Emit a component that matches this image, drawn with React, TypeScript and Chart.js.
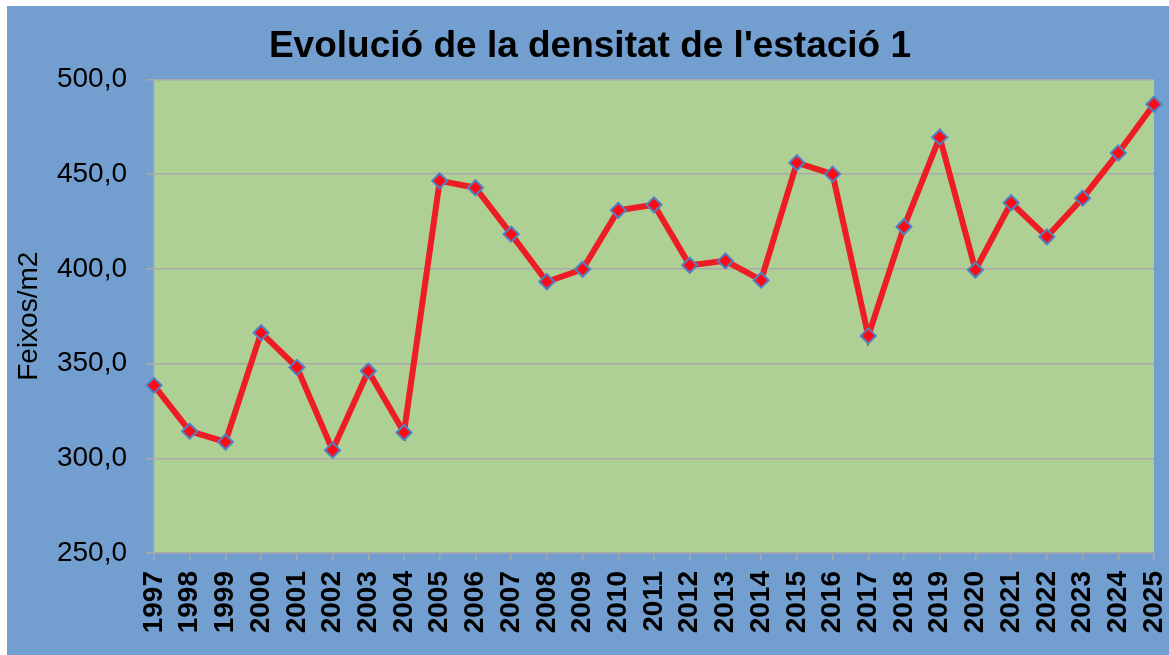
import React, { useEffect, useRef } from "react";
import { Chart, registerables } from "chart.js";

Chart.register(...registerables);

const years: string[] = [
  "1997", "1998", "1999", "2000", "2001", "2002", "2003", "2004", "2005", "2006",
  "2007", "2008", "2009", "2010", "2011", "2012", "2013", "2014", "2015", "2016",
  "2017", "2018", "2019", "2020", "2021", "2022", "2023", "2024", "2025",
];

const density: number[] = [
  338.5, 314.3, 308.6, 366.3, 348.0, 304.3, 346.1, 313.6, 446.5, 442.8,
  418.3, 393.2, 399.8, 430.9, 433.8, 401.9, 404.2, 394.0, 456.0, 450.0,
  364.6, 422.2, 469.5, 399.4, 434.9, 416.9, 437.3, 461.2, 486.9,
];

const yMin = 250;
const yMax = 500;
const yStep = 50;

const titleText = "Evolució de la densitat de l'estació 1";
const yTitle = "Feixos/m2";

const FONT = "'Liberation Sans', Arial, Helvetica, sans-serif";
const BLUE_BG = "#729fcf";
const PLOT_BG = "#afd095";
const GRID = "#a9a9a9";

const plotBgPlugin = {
  id: "plotBg",
  afterLayout(chart: any) {
    const tb = chart.titleBlock;
    if (tb) {
      tb.left = 4;
      tb.right = chart.width;
    }
  },
  beforeDraw(chart: any) {
    const { ctx, chartArea } = chart;
    if (!chartArea) return;
    ctx.save();
    ctx.fillStyle = PLOT_BG;
    ctx.fillRect(chartArea.left, chartArea.top, chartArea.right - chartArea.left, chartArea.bottom - chartArea.top);
    ctx.restore();
  },
};

export default function App() {
  const ref = useRef<HTMLCanvasElement | null>(null);

  useEffect(() => {
    if (!ref.current) return;
    const chart = new Chart(ref.current, {
      type: "line",
      data: {
        labels: years,
        datasets: [
          {
            data: density,
            borderColor: "#ee1c25",
            borderWidth: 6,
            pointStyle: "rectRot",
            pointRadius: 7.5,
            pointBackgroundColor: "#ff0a14",
            pointBorderColor: "#4f81c4",
            pointBorderWidth: 2,
            tension: 0,
            fill: false,
          },
        ],
      },
      plugins: [plotBgPlugin],
      options: {
        animation: false,
        responsive: false,
        maintainAspectRatio: false,
        layout: { padding: { left: 0, right: 15, top: 0, bottom: 0 } },
        plugins: {
          legend: { display: false },
          tooltip: { enabled: false },
          title: {
            display: true,
            text: titleText,
            color: "#000",
            font: { family: FONT, size: 37, weight: "bold", lineHeight: 1.2 },
            padding: { top: 19, bottom: 10 },
          },
        },
        scales: {
          x: {
            offset: false,
            grid: {
              drawOnChartArea: false,
              drawTicks: true,
              tickLength: 8,
              color: GRID,
              lineWidth: 1.5,
            },
            border: { display: true, color: GRID, width: 1.5 },
            ticks: {
              color: "#000",
              autoSkip: false,
              minRotation: 90,
              maxRotation: 90,
              padding: 10,
              font: { family: FONT, size: 28, weight: "bold", lineHeight: 1 },
            },
            afterFit(scale: any) {
              scale.height = 102;
              scale.paddingLeft = 0;
              scale.paddingRight = 0;
            },
          },
          y: {
            min: yMin,
            max: yMax,
            grid: {
              color: GRID,
              lineWidth: 1.5,
              tickLength: 8,
            },
            border: { display: true, color: GRID, width: 1.5 },
            ticks: {
              stepSize: yStep,
              color: "#000",
              padding: 19,
              font: { family: FONT, size: 28 },
              callback: (v: any) => Number(v).toFixed(1).replace(".", ","),
            },
            title: {
              display: true,
              text: yTitle,
              color: "#000",
              font: { family: FONT, size: 28, lineHeight: 1.2 },
              padding: { top: 5, bottom: 0 },
            },
            afterFit(scale: any) {
              scale.width = 147;
            },
          },
        },
      },
    } as any);
    return () => chart.destroy();
  }, []);

  return (
    <div style={{ position: "absolute", left: 0, top: 0, width: 1169, height: 655, background: "#fff" }}>
      <div style={{ position: "absolute", left: 7, top: 6, width: 1162, height: 649, background: BLUE_BG }}>
        <canvas ref={ref} width={1162} height={649} style={{ display: "block", width: 1162, height: 649 }} />
      </div>
    </div>
  );
}
